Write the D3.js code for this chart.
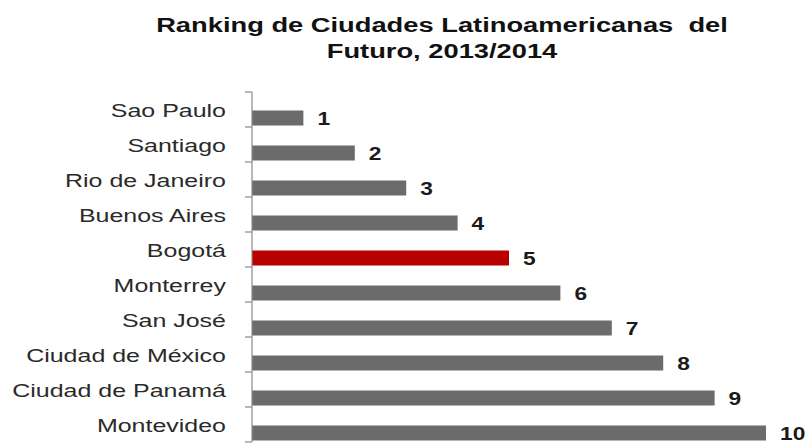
<!DOCTYPE html>
<html>
<head>
<meta charset="utf-8">
<script src="https://cdn.jsdelivr.net/npm/d3@7"></script>
<style>
  body { margin: 0; background: #fff; }
  svg { display: block; }
</style>
</head>
<body>
<svg id="chart" width="812" height="443"></svg>
<script>
const titleLines = ["Ranking de Ciudades Latinoamericanas  del", "Futuro, 2013/2014"];
const cities = ["Sao Paulo", "Santiago", "Rio de Janeiro", "Buenos Aires", "Bogotá",
                "Monterrey", "San José", "Ciudad de México", "Ciudad de Panamá", "Montevideo"];
const ranks = [1, 2, 3, 4, 5, 6, 7, 8, 9, 10];
const highlight = ["Bogotá"];

const svg = d3.select("#chart");
const W = 812, H = 443;
const stretch = 1.35;

const x = d3.scaleLinear().domain([0, 10]).range([252, 766]);
const y = d3.scaleBand().domain(cities).range([92, 442]).paddingInner(0).paddingOuter(0);
const step = y.step();
const barH = 15;
const barOff = 18.5;

// title
svg.selectAll("text.title").data(titleLines).enter().append("text")
  .attr("class", "title")
  .attr("transform", (d, i) => `translate(442,${32 + i * 26}) scale(1.3,1)`)
  .attr("text-anchor", "middle")
  .attr("font-family", "Liberation Sans, Arial, sans-serif")
  .attr("font-weight", "bold")
  .attr("font-size", 21)
  .attr("fill", "#111")
  .style("white-space", "pre")
  .text(d => d);

const data = cities.map((c, i) => ({ city: c, rank: ranks[i] }));

// bars
svg.selectAll("rect.bar").data(data).enter().append("rect")
  .attr("class", "bar")
  .attr("x", x(0))
  .attr("y", d => y(d.city) + barOff)
  .attr("width", d => x(d.rank) - x(0))
  .attr("height", barH)
  .attr("fill", d => highlight.includes(d.city) ? "#b80000" : "#6b6b6b");

// axis line and ticks
const axisG = svg.append("g");
axisG.append("line")
  .attr("x1", x(0)).attr("x2", x(0))
  .attr("y1", y.range()[0]).attr("y2", y.range()[1])
  .attr("stroke", "#8a8a8a").attr("stroke-width", 1.2);
const tickYs = cities.map(c => y(c)).concat([y.range()[1]]);
axisG.selectAll("line.tick").data(tickYs).enter().append("line")
  .attr("class", "tick")
  .attr("x1", x(0) - 7).attr("x2", x(0))
  .attr("y1", d => d).attr("y2", d => d)
  .attr("stroke", "#8a8a8a").attr("stroke-width", 1.2);

// category labels
svg.selectAll("text.cat").data(data).enter().append("text")
  .attr("class", "cat")
  .attr("transform", d => `translate(226,${y(d.city) + 24.5}) scale(${stretch},1)`)
  .attr("text-anchor", "end")
  .attr("font-family", "Liberation Sans, Arial, sans-serif")
  .attr("font-size", 18.5)
  .attr("fill", "#2a2a2a")
  .text(d => d.city);

// value labels
svg.selectAll("text.val").data(data).enter().append("text")
  .attr("class", "val")
  .attr("transform", d => `translate(${x(d.rank) + 14},${y(d.city) + barOff + barH / 2 + 7}) scale(1.3,1)`)
  .attr("font-family", "Liberation Sans, Arial, sans-serif")
  .attr("font-weight", "bold")
  .attr("font-size", 17.5)
  .attr("fill", "#1a1a1a")
  .text(d => d.rank);
</script>
</body>
</html>
